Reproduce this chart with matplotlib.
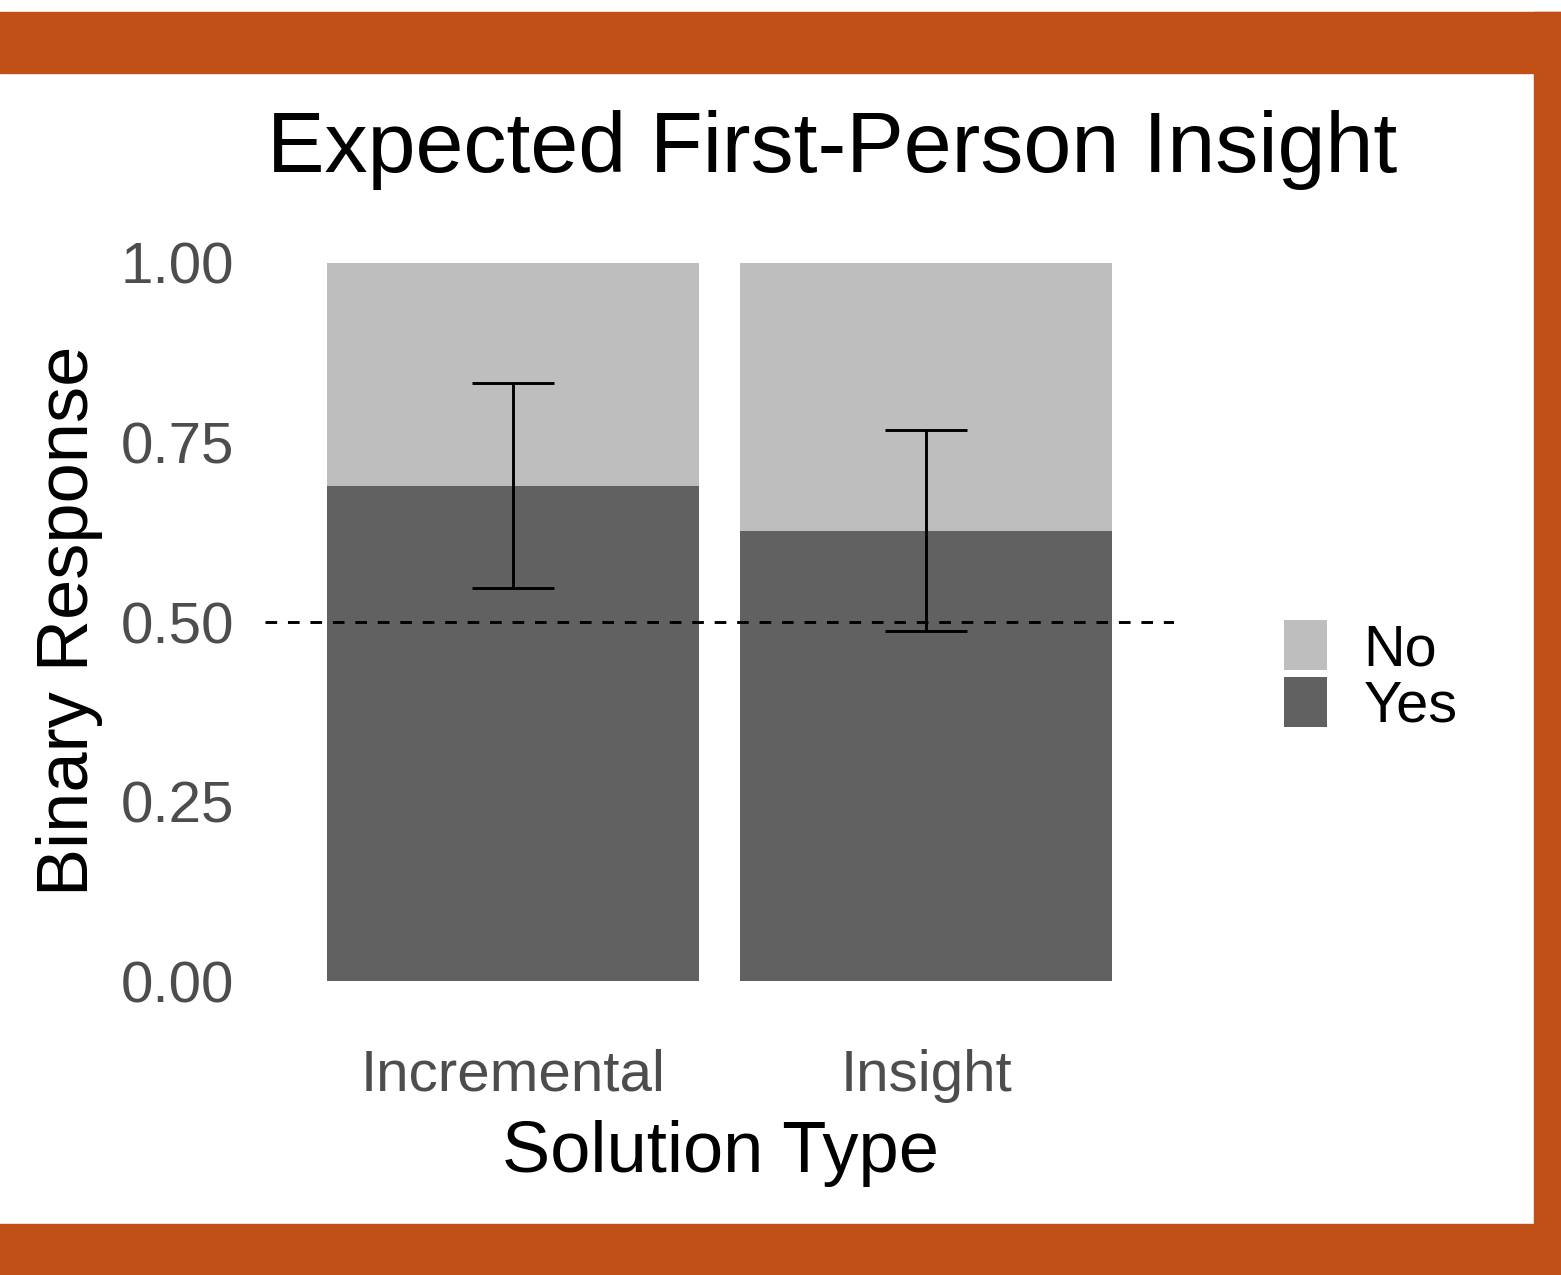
import matplotlib
matplotlib.use("Agg")
import matplotlib.pyplot as plt
from matplotlib.patches import Patch, Rectangle
import numpy as np

plt.rcParams["font.family"] = ["Liberation Sans", "DejaVu Sans"]

categories = ["Incremental", "Insight"]
yes_share = [0.689, 0.627]
ci_low = [0.547, 0.488]
ci_high = [0.833, 0.767]
responses = ["No", "Yes"]
yticks = [0.0, 0.25, 0.5, 0.75, 1.0]
ytick_labels = ["0.00", "0.25", "0.50", "0.75", "1.00"]
chance = 0.5

COL_NO = "#bebebe"
COL_YES = "#616161"
ORANGE = "#c05016"
TEXT_GREY = "#4d4d4d"

W, H = 1561, 1275
fig = plt.figure(figsize=(W / 100, H / 100), dpi=100)
fig.patch.set_facecolor("white")

# orange frame (top, right, bottom bands)
fig.patches.append(Rectangle((0, 1 - 73 / H), 1, 61 / H, transform=fig.transFigure,
                             color=ORANGE, zorder=0))
fig.patches.append(Rectangle((1534 / W, 0), 27 / W, 1 - 12 / H, transform=fig.transFigure,
                             color=ORANGE, zorder=0))
fig.patches.append(Rectangle((0, 0), 1, 51 / H, transform=fig.transFigure,
                             color=ORANGE, zorder=0))

ax = fig.add_axes([265 / W, 258 / H, 909 / W, 790 / H])
x = np.arange(1, len(categories) + 1)
yes = np.array(yes_share)
no = 1 - yes

ax.bar(x, yes, width=0.9, color=COL_YES, zorder=1)
ax.bar(x, no, width=0.9, bottom=yes, color=COL_NO, zorder=1)
ax.axhline(chance, color="black", lw=2.1, dashes=(4, 3.7), zorder=2)
ax.errorbar(x, yes, yerr=[yes - np.array(ci_low), np.array(ci_high) - yes],
            fmt="none", ecolor="black", elinewidth=2.1, capsize=29.5, capthick=2.1, zorder=3)

ax.set_xlim(0.4, 2.6)
ax.set_ylim(-0.05, 1.05)
ax.set_xticks(x)
ax.set_xticklabels(categories)
ax.set_yticks(yticks)
ax.set_yticklabels(ytick_labels)
ax.tick_params(length=0, labelsize=42, labelcolor=TEXT_GREY)
ax.tick_params(axis="x", pad=23)
ax.tick_params(axis="y", pad=22)
for s in ax.spines.values():
    s.set_visible(False)
ax.set_facecolor("white")

fig.text(832 / W, 1 - 172 / H, "Expected First-Person Insight", ha="center",
         va="baseline", fontsize=62, color="black")
fig.text(720 / W, 1 - 1172 / H, "Solution Type", ha="center", va="baseline",
         fontsize=52, color="black")
fig.text(88 / W, 1 - 621 / H, "Binary Response", ha="center", va="baseline",
         rotation=90, rotation_mode="anchor", fontsize=52, color="black")

handles = [Patch(facecolor=COL_NO, edgecolor="none"), Patch(facecolor=COL_YES, edgecolor="none")]
fig.legend(handles, responses, loc="center left", bbox_to_anchor=(1284 / W, 1 - 677 / H),
           frameon=False, fontsize=41.5, handlelength=0.74, handleheight=0.96,
           handletextpad=0.64, labelspacing=0.0, borderpad=0, borderaxespad=0)

fig.savefig("out.png", dpi=100)
